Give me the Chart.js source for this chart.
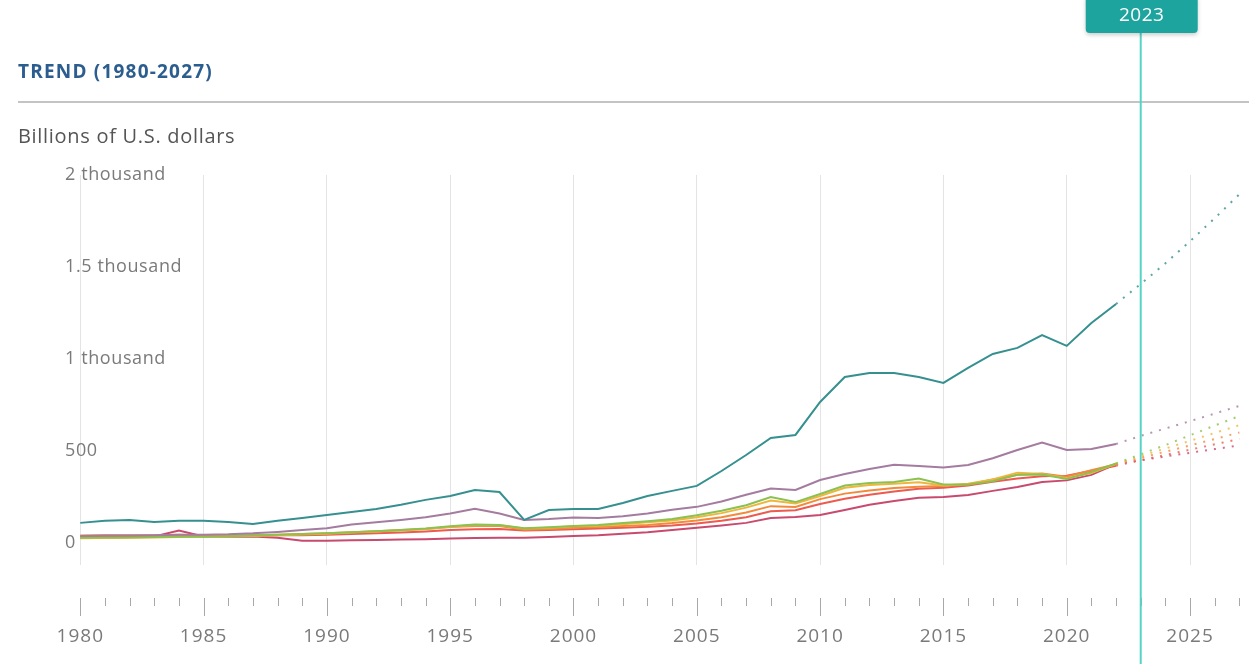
<!DOCTYPE html>
<html>
<head>
<meta charset="utf-8">
<script src="https://cdn.jsdelivr.net/npm/chart.js@4/dist/chart.umd.min.js"></script>
<style>
  html, body { margin: 0; padding: 0; background: #fff; }
  #wrap { position: relative; width: 1249px; height: 664px; }
</style>
</head>
<body>
<div id="wrap"><canvas id="trendChart" width="1249" height="664"></canvas></div>
<script>
const years = [1980, 1981, 1982, 1983, 1984, 1985, 1986, 1987, 1988, 1989,
               1990, 1991, 1992, 1993, 1994, 1995, 1996, 1997, 1998, 1999,
               2000, 2001, 2002, 2003, 2004, 2005, 2006, 2007, 2008, 2009,
               2010, 2011, 2012, 2013, 2014, 2015, 2016, 2017, 2018, 2019,
               2020, 2021, 2022];
const projYears = [2022, 2023, 2024, 2025, 2026, 2027];

// billions of U.S. dollars
const teal = [109, 120, 125, 114, 120, 120, 114, 103, 120, 136,
              152, 168, 185, 207, 234, 255, 288, 277, 125, 179,
              185, 185, 217, 255, 283, 310, 391, 478, 571, 587,
              766, 902, 924, 924, 902, 870, 951, 1027, 1060, 1130,
              1071, 1196, 1299];
const mauve = [38, 40, 40, 42, 45, 45, 47, 52, 60, 70,
               80, 100, 112, 125, 140, 160, 185, 160, 125, 130,
               138, 135, 145, 160, 180, 196, 225, 262, 296, 288,
               342, 375, 402, 425, 418, 410, 424, 460, 505, 545,
               505, 510, 538];
const green = [28, 30, 30, 32, 34, 34, 36, 40, 44, 48,
               52, 58, 64, 70, 78, 90, 100, 98, 80, 85,
               92, 98, 108, 118, 130, 150, 175, 205, 250, 222,
               266, 312, 326, 331, 350, 318, 318, 335, 370, 372,
               348, 385, 432];
const gold = [25, 27, 28, 30, 32, 33, 35, 38, 42, 46,
              50, 56, 62, 68, 76, 88, 98, 96, 78, 83,
              90, 94, 102, 112, 122, 140, 162, 192, 230, 215,
              255, 300, 315, 322, 330, 312, 322, 345, 382, 375,
              352, 380, 430];
const orange = [40, 42, 42, 42, 44, 40, 40, 42, 45, 48,
                52, 58, 64, 70, 76, 86, 92, 92, 72, 76,
                82, 86, 92, 98, 108, 122, 140, 165, 200, 195,
                238, 268, 285, 298, 305, 310, 318, 345, 370, 378,
                360, 395, 428];
const red = [35, 36, 36, 38, 40, 38, 38, 40, 42, 42,
             45, 48, 52, 56, 62, 70, 75, 76, 68, 70,
             74, 78, 82, 88, 95, 105, 120, 140, 172, 178,
             212, 240, 262, 280, 295, 300, 312, 332, 350, 362,
             365, 392, 420];
const crimson = [30, 30, 32, 35, 68, 35, 33, 35, 28, 12,
                 12, 14, 16, 18, 20, 24, 27, 28, 28, 32,
                 38, 42, 50, 58, 70, 82, 95, 109, 136, 141,
                 152, 179, 207, 228, 245, 250, 261, 283, 304, 331,
                 340, 370, 428];

// projections 2022-2027
const tealProj = [1299, 1408, 1520, 1640, 1765, 1895];
const mauveProj = [538, 582, 622, 662, 703, 745];
const greenProj = [432, 482, 532, 585, 638, 690];
const goldProj = [430, 472, 513, 555, 598, 640];
const orangeProj = [428, 462, 496, 530, 565, 600];
const redProj = [420, 450, 478, 507, 536, 565];
const crimsonProj = [428, 449, 470, 490, 510, 530];

const yTicks = [0, 500, 1000, 1500, 2000];
const yTickLabels = ['0', '500', '1 thousand', '1.5 thousand', '2 thousand'];
const xTicks = [1980, 1985, 1990, 1995, 2000, 2005, 2010, 2015, 2020, 2025];
const xTickLabels = ['1980', '1985', '1990', '1995', '2000', '2005', '2010', '2015', '2020', '2025'];
const markerYear = 2023;

const series = [
  { data: teal, proj: tealProj, color: '#35908f' },
  { data: mauve, proj: mauveProj, color: '#a47c9f' },
  { data: green, proj: greenProj, color: '#8cc152' },
  { data: gold, proj: goldProj, color: '#efb63c' },
  { data: orange, proj: orangeProj, color: '#f28a3c' },
  { data: red, proj: redProj, color: '#ec5a50' },
  { data: crimson, proj: crimsonProj, color: '#c84a6e' }
];

const datasets = [];
series.forEach(s => {
  datasets.push({
    data: years.map((yr, i) => ({ x: yr, y: s.data[i] })),
    borderColor: s.color,
    borderWidth: 2,
    pointRadius: 0,
    tension: 0
  });
});
series.forEach(s => {
  datasets.push({
    data: projYears.map((yr, i) => ({ x: yr, y: s.proj[i] })),
    borderColor: s.color + 'cc',
    borderWidth: 2,
    borderDash: [2, 7],
    pointRadius: 0,
    tension: 0
  });
});

const font = '"Open Sans", "Noto Sans", sans-serif';

// header, y labels, bottom axis and the 2023 marker
const decorations = {
  id: 'decorations',
  beforeDatasetsDraw(chart) {
    const c = chart.ctx;
    const y = chart.scales.y;
    c.save();
    c.fillStyle = '#7a7a7a';
    c.font = '18px ' + font;
    c.letterSpacing = '0.6px';
    c.textAlign = 'left';
    c.textBaseline = 'middle';
    yTicks.forEach((v, i) => {
      c.fillText(yTickLabels[i], chart.chartArea.left + 2, y.getPixelForValue(v));
    });
    c.restore();
  },
  afterDraw(chart) {
    const c = chart.ctx;
    const x = chart.scales.x;
    c.save();

    c.fillStyle = '#2b5d8f';
    c.font = 'bold 19px ' + font;
    c.letterSpacing = '1.2px';
    c.textBaseline = 'middle';
    c.fillText('TREND (1980-2027)', 18, 73);

    c.strokeStyle = '#c4c4c4';
    c.lineWidth = 2;
    c.beginPath();
    c.moveTo(18, 102);
    c.lineTo(chart.width, 102);
    c.stroke();

    c.fillStyle = '#555';
    c.font = '20px ' + font;
    c.letterSpacing = '0.7px';
    c.fillText('Billions of U.S. dollars', 18, 137);

    // bottom axis
    const axisTop = 598;
    c.strokeStyle = '#a8a8a8';
    c.lineWidth = 1;
    for (let yr = 1980; yr <= 2027; yr++) {
      const px = Math.round(x.getPixelForValue(yr)) + 0.5;
      const major = xTicks.includes(yr);
      c.beginPath();
      c.moveTo(px, axisTop);
      c.lineTo(px, axisTop + (major ? 18 : 8));
      c.stroke();
    }
    c.fillStyle = '#7a7a7a';
    c.font = '19px ' + font;
    c.letterSpacing = '1px';
    c.textAlign = 'center';
    xTicks.forEach((yr, i) => {
      c.fillText(xTickLabels[i], x.getPixelForValue(yr), 637);
    });

    // current year marker
    const mx = x.getPixelForValue(markerYear);
    c.strokeStyle = '#55d4c6';
    c.lineWidth = 2;
    c.beginPath();
    c.moveTo(mx, 30);
    c.lineTo(mx, chart.height);
    c.stroke();

    c.fillStyle = '#1ea49e';
    c.shadowColor = 'rgba(0,0,0,0.2)';
    c.shadowBlur = 4;
    c.shadowOffsetY = 2;
    c.beginPath();
    c.roundRect(mx - 55, -5, 112, 38, 4);
    c.fill();
    c.shadowColor = 'transparent';
    c.fillStyle = '#fff';
    c.font = '19px ' + font;
    c.letterSpacing = '0.5px';
    c.fillText(String(markerYear), mx + 1, 16);
    c.restore();
  }
};

const ctx = document.getElementById('trendChart').getContext('2d');
const trendChart = new Chart(ctx, {
  type: 'line',
  data: { datasets: datasets },
  plugins: [decorations],
  options: {
    responsive: false,
    animation: false,
    layout: { padding: { left: 63, right: 1, top: 175, bottom: 99 } },
    plugins: {
      legend: { display: false },
      tooltip: { enabled: false }
    },
    scales: {
      x: {
        type: 'linear',
        min: 1979.3,
        max: 2027.35,
        afterBuildTicks: scale => {
          scale.ticks = xTicks.map(v => ({ value: v }));
        },
        grid: { color: '#e4e4e4', drawTicks: false },
        border: { display: false },
        ticks: { display: false }
      },
      y: {
        display: false,
        min: -120,
        max: 2000
      }
    }
  }
});
</script>
</body>
</html>
